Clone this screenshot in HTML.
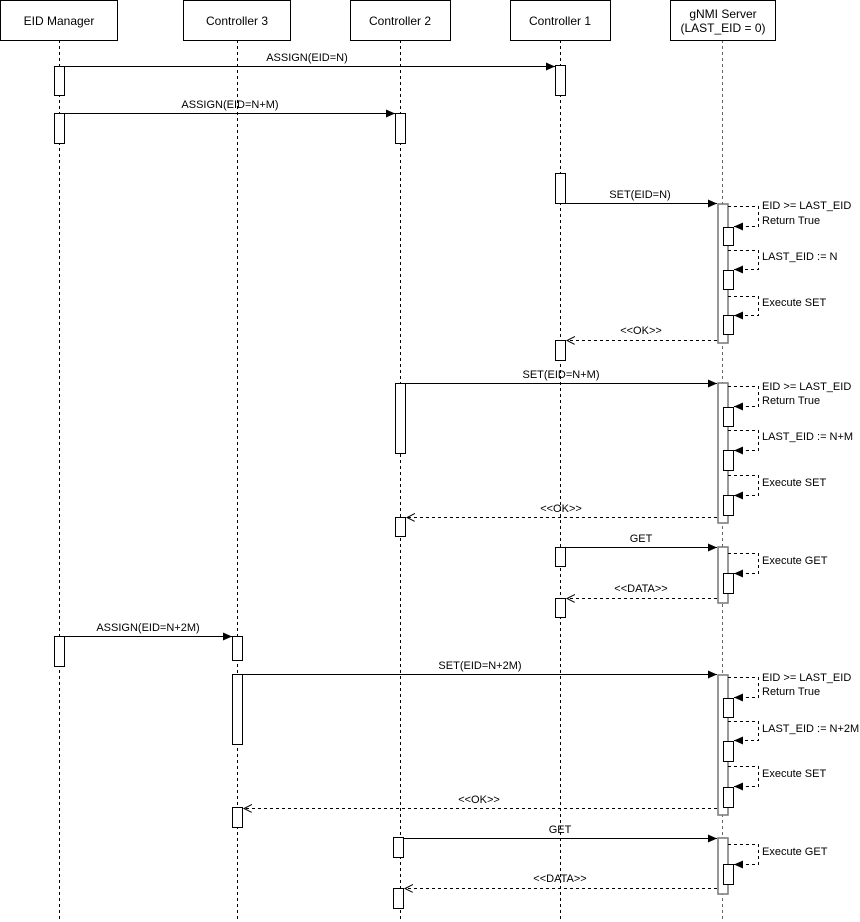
<!DOCTYPE html>
<html><head><meta charset="utf-8"><style>
html,body{margin:0;padding:0;background:#fff;}
svg{display:block;font-family:"Liberation Sans",Arial,sans-serif;font-size:11px;}
</style></head><body>
<svg width="860" height="922" viewBox="0 0 860 922" xmlns="http://www.w3.org/2000/svg">
<defs>
<marker id="fa" markerWidth="10" markerHeight="10" refX="9" refY="4" orient="auto" markerUnits="userSpaceOnUse"><path d="M0,0 L9,4 L0,8 z" fill="#000"/></marker>
<marker id="oa" markerWidth="10" markerHeight="10" refX="8" refY="4" orient="auto" markerUnits="userSpaceOnUse"><path d="M0,0 L8,4 L0,8" fill="none" stroke="#000" stroke-width="1" stroke-dasharray="none"/></marker>
</defs>
<g stroke="#000" stroke-width="1" stroke-dasharray="3,3" fill="none">
<line x1="59.5" y1="40" x2="59.5" y2="922"/>
<line x1="237.5" y1="40" x2="237.5" y2="922"/>
<line x1="400.5" y1="40" x2="400.5" y2="922"/>
<line x1="560.5" y1="40" x2="560.5" y2="922"/>
<line x1="722.5" y1="40" x2="722.5" y2="922" stroke="#666"/>
</g>
<g stroke="#000" fill="#fff">
<rect x="0.5" y="0.5" width="117" height="40"/>
<rect x="183.5" y="0.5" width="107" height="40"/>
<rect x="350.5" y="0.5" width="100" height="40"/>
<rect x="510.5" y="0.5" width="100" height="40"/>
<rect x="670.5" y="0.5" width="105" height="40"/>
</g>
<g text-anchor="middle" font-size="12">
<text x="59" y="25">EID Manager</text>
<text x="237" y="25">Controller 3</text>
<text x="400" y="25">Controller 2</text>
<text x="560" y="25">Controller 1</text>
<text x="723" y="18">gNMI Server</text>
<text x="723" y="32">(LAST_EID = 0)</text>
</g>
<g stroke="#777" stroke-width="1.5" fill="#fff">
<rect x="718" y="204" width="10" height="139"/>
<rect x="718" y="383" width="10" height="140"/>
<rect x="718" y="547" width="10" height="56"/>
<rect x="718" y="675" width="10" height="140"/>
<rect x="718" y="838" width="10" height="56"/>
</g>
<g stroke="#000" fill="#fff">
<rect x="54.5" y="66.5" width="10" height="29"/>
<rect x="54.5" y="113.5" width="10" height="30"/>
<rect x="54.5" y="636.5" width="10" height="30"/>
<rect x="555.5" y="65.5" width="10" height="30"/>
<rect x="395.5" y="113.5" width="10" height="30"/>
<rect x="555.5" y="173.5" width="10" height="30"/>
<rect x="555.5" y="340.5" width="10" height="20"/>
<rect x="395.5" y="383.5" width="10" height="70"/>
<rect x="395.5" y="517.5" width="10" height="19"/>
<rect x="555.5" y="547.5" width="10" height="19"/>
<rect x="555.5" y="598.5" width="10" height="19"/>
<rect x="232.5" y="636.5" width="10" height="24"/>
<rect x="232.5" y="674.5" width="10" height="70"/>
<rect x="232.5" y="807.5" width="10" height="20"/>
<rect x="393.5" y="837.5" width="10" height="20"/>
<rect x="393.5" y="888.5" width="10" height="20"/>
<rect x="723.5" y="227.5" width="10" height="18"/>
<rect x="723.5" y="270.5" width="10" height="19"/>
<rect x="723.5" y="315.5" width="10" height="19"/>
<rect x="723.5" y="407.5" width="10" height="19"/>
<rect x="723.5" y="450.5" width="10" height="20"/>
<rect x="723.5" y="495.5" width="10" height="20"/>
<rect x="723.5" y="573.5" width="10" height="20"/>
<rect x="723.5" y="698.5" width="10" height="19"/>
<rect x="723.5" y="741.5" width="10" height="20"/>
<rect x="723.5" y="787.5" width="10" height="20"/>
<rect x="723.5" y="864.5" width="10" height="20"/>
</g>
<g stroke="#000" stroke-width="1" fill="none" marker-end="url(#fa)">
<line x1="64" y1="66.5" x2="555" y2="66.5"/>
<line x1="64" y1="113.5" x2="395" y2="113.5"/>
<line x1="565" y1="203.5" x2="717" y2="203.5"/>
<line x1="405" y1="383.5" x2="717" y2="383.5"/>
<line x1="565" y1="547.5" x2="717" y2="547.5"/>
<line x1="64" y1="636.5" x2="232" y2="636.5"/>
<line x1="242" y1="674.5" x2="717" y2="674.5"/>
<line x1="403" y1="838.5" x2="717" y2="838.5"/>
</g>
<g stroke="#000" stroke-width="1" stroke-dasharray="3,3" fill="none" marker-end="url(#oa)">
<line x1="717" y1="340.5" x2="567" y2="340.5"/>
<line x1="717" y1="517.5" x2="407" y2="517.5"/>
<line x1="717" y1="598.5" x2="567" y2="598.5"/>
<line x1="717" y1="808.5" x2="244" y2="808.5"/>
<line x1="717" y1="888.5" x2="405" y2="888.5"/>
</g>
<g stroke="#000" stroke-width="1" stroke-dasharray="3,3" fill="none" marker-end="url(#fa)">
<polyline points="728,206.5 758.5,206.5 758.5,226.5 734,226.5"/>
<polyline points="728,250.5 758.5,250.5 758.5,269.5 734,269.5"/>
<polyline points="728,296.5 758.5,296.5 758.5,315.5 734,315.5"/>
<polyline points="728,386.5 758.5,386.5 758.5,406.5 734,406.5"/>
<polyline points="728,430.5 758.5,430.5 758.5,450.5 734,450.5"/>
<polyline points="728,475.5 758.5,475.5 758.5,495.5 734,495.5"/>
<polyline points="728,553.5 758.5,553.5 758.5,573.5 734,573.5"/>
<polyline points="728,677.5 758.5,677.5 758.5,697.5 734,697.5"/>
<polyline points="728,721.5 758.5,721.5 758.5,740.5 734,740.5"/>
<polyline points="728,766.5 758.5,766.5 758.5,786.5 734,786.5"/>
<polyline points="728,844.5 758.5,844.5 758.5,864.5 734,864.5"/>
</g>
<g text-anchor="middle">
<text x="307" y="61">ASSIGN(EID=N)</text>
<text x="230" y="108">ASSIGN(EID=N+M)</text>
<text x="640" y="198">SET(EID=N)</text>
<text x="641" y="334">&lt;&lt;OK&gt;&gt;</text>
<text x="561" y="378">SET(EID=N+M)</text>
<text x="561" y="512">&lt;&lt;OK&gt;&gt;</text>
<text x="641" y="542">GET</text>
<text x="641" y="592">&lt;&lt;DATA&gt;&gt;</text>
<text x="148" y="631">ASSIGN(EID=N+2M)</text>
<text x="480" y="669">SET(EID=N+2M)</text>
<text x="479" y="803">&lt;&lt;OK&gt;&gt;</text>
<text x="560" y="833">GET</text>
<text x="560" y="882">&lt;&lt;DATA&gt;&gt;</text>
</g>
<g>
<text x="762" y="209">EID &gt;= LAST_EID</text>
<text x="762" y="224">Return True</text>
<text x="762" y="260">LAST_EID := N</text>
<text x="762" y="306">Execute SET</text>
<text x="762" y="390">EID &gt;= LAST_EID</text>
<text x="762" y="404">Return True</text>
<text x="762" y="440">LAST_EID := N+M</text>
<text x="762" y="486">Execute SET</text>
<text x="762" y="564">Execute GET</text>
<text x="762" y="681">EID &gt;= LAST_EID</text>
<text x="762" y="695">Return True</text>
<text x="762" y="732">LAST_EID := N+2M</text>
<text x="762" y="777">Execute SET</text>
<text x="762" y="855">Execute GET</text>
</g>
</svg>
</body></html>
